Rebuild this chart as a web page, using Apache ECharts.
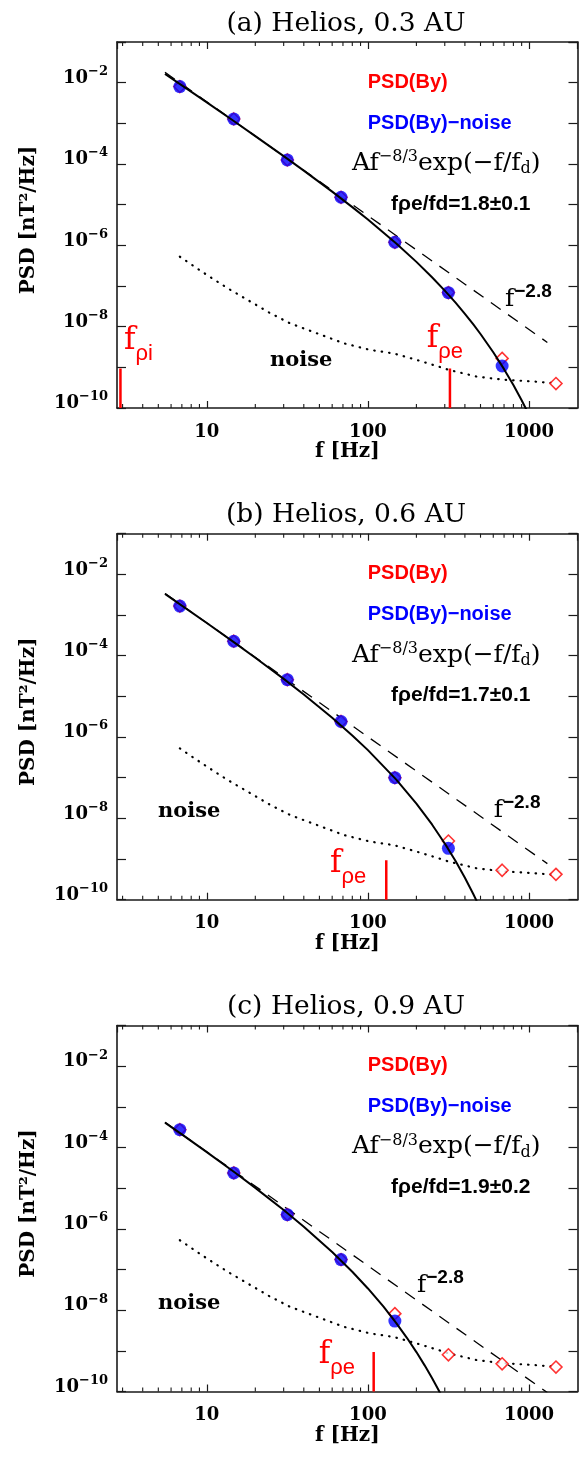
<!DOCTYPE html>
<html><head><meta charset="utf-8">
<script src="https://cdn.jsdelivr.net/npm/echarts@6/dist/echarts.min.js"></script>
<style>html,body{margin:0;padding:0;background:#fff;}#c{width:579px;height:1457px;}</style>
</head><body><div id="c"></div>
<script>
// ---------------- data ----------------
// Helios search-coil channel centre frequencies [Hz]
const freq = [6.8, 14.7, 31.6, 68.1, 147, 316, 681, 1470];

const panelTitles = ['(a) Helios, 0.3 AU', '(b) Helios, 0.6 AU', '(c) Helios, 0.9 AU'];
const ratioLabels = ['1.8\u00b10.1', '1.7\u00b10.1', '1.9\u00b10.2'];

// PSD(By) – red diamonds
const psdA = [8.0e-3, 1.28e-3, 1.26e-4, 1.52e-5, 1.19e-6, 6.9e-8, 1.66e-9, 4.0e-10];
const psdB = [1.66e-3, 2.27e-4, 2.58e-5, 2.41e-6, 1.0e-7, 2.77e-9, 5.3e-10, 4.2e-10];
const psdC = [2.75e-4, 2.37e-5, 2.23e-6, 1.75e-7, 8.2e-9, 8.0e-10, 4.8e-10, 4.0e-10];

// PSD(By)-noise – blue dots (null = not shown)
const subA = [8.0e-3, 1.28e-3, 1.26e-4, 1.52e-5, 1.19e-6, 6.86e-8, 1.08e-9, null];
const subB = [1.66e-3, 2.27e-4, 2.58e-5, 2.41e-6, 1.0e-7, 1.83e-9, null, null];
const subC = [2.75e-4, 2.37e-5, 2.23e-6, 1.75e-7, 5.4e-9, null, null, null];

// noise level – dotted curve (same in all panels)
const noiseF = [6.8, 9.6, 13.4, 18.6, 24.8, 33, 48, 71, 103, 145, 202, 269, 316, 475, 681, 1067, 1470];
const noiseP = [5.25e-7, 2.09e-7, 8.91e-8, 4.17e-8, 2.14e-8, 1.20e-8, 6.92e-9, 3.89e-9, 2.69e-9, 2.19e-9, 1.51e-9, 1.07e-9, 8.7e-10, 5.9e-10, 5.0e-10, 4.47e-10, 4.07e-10];

// fitted curve A f^-8/3 exp(-f/fd)
const fitFA = [5.5, 7, 10, 15, 20, 30, 40, 60, 80, 100, 150, 200, 250, 300, 350, 400, 450, 500, 600, 700, 800, 900, 1000];
const fitPA = [1.647e-2, 8.59e-3, 3.264e-3, 1.077e-3, 4.865e-4, 1.562e-4, 6.87e-5, 2.089e-5, 8.70e-6, 4.30e-6, 1.110e-6, 3.92e-7, 1.645e-7, 7.70e-8, 3.883e-8, 2.07e-8, 1.15e-8, 6.61e-9, 2.353e-9, 9.03e-10, 3.66e-10, 1.55e-10, 6.78e-11];
const fitFB = [5.5, 7, 10, 15, 20, 30, 40, 60, 80, 100, 150, 200, 250, 300, 350, 400, 450, 500];
const fitPB = [3.308e-3, 1.708e-3, 6.37e-4, 2.038e-4, 8.92e-5, 2.69e-5, 1.11e-5, 2.976e-6, 1.093e-6, 4.76e-7, 8.97e-8, 2.312e-8, 7.09e-9, 2.417e-9, 8.90e-10, 3.463e-10, 1.405e-10, 5.89e-11];
const fitFC = [5.5, 7, 10, 15, 20, 30, 40, 60, 80, 100, 125, 150, 175, 200, 225, 250, 275, 300];
const fitPC = [4.10e-4, 2.099e-4, 7.69e-5, 2.39e-5, 1.017e-5, 2.893e-6, 1.127e-6, 2.693e-7, 8.80e-8, 3.418e-8, 1.216e-8, 4.82e-9, 2.062e-9, 9.31e-10, 4.39e-10, 2.137e-10, 1.069e-10, 5.47e-11];

// f^-2.8 reference line (dashed), end points
const dashF = [5.5, 1300];
const dashA = [1.8e-2, 4.1e-9];
const dashB = [3.4e-3, 7.7e-10];
const dashC = [4.16e-4, 9.4e-11];

// gyro-scale frequencies (red bars)
const fRhoA = [2.91, 323];
const fRhoB = [130];
const fRhoC = [108.6];
const fRhoBar = [1e-10, 9.3e-10];

// axes
const X_MIN = 2.77, X_MAX = 2000, Y_MIN = 1e-10, Y_MAX = 1e-1;
const xMinorTicks = [3, 4, 5, 6, 7, 8, 9, 20, 30, 40, 50, 60, 70, 80, 90, 200, 300, 400, 500, 600, 700, 800, 900];

// ---------------- layout ----------------
const SERIF = 'DejaVu Serif';
const SANS = 'Liberation Sans';
const INK = '#1a1a1a';
const RED = '#ff0000', BLUE = '#0000ff';
const GRID_LEFT = 117, GRID_W = 460.5, GRID_H = 366;
const TOPS = [42, 533.7, 1025.5];

const panels = [
  {psd: psdA, sub: subA, fitF: fitFA, fitP: fitPA, dash: dashA, fRho: fRhoA},
  {psd: psdB, sub: subB, fitF: fitFB, fitP: fitPB, dash: dashB, fRho: fRhoB},
  {psd: psdC, sub: subC, fitF: fitFC, fitP: fitPC, dash: dashC, fRho: fRhoC}
];

function isPow10(v) { const e = Math.log10(v); return Math.abs(e - Math.round(e)) < 1e-6; }
function xLabel(v) { return isPow10(v) ? '{b|' + Math.round(v) + '}' : ''; }
function yLabel(v) {
  if (!isPow10(v)) return '';
  const e = Math.round(Math.log10(v));
  if (e % 2 !== 0) return '';
  return '{b|10}{s|' + (e < 0 ? '\u2212' : '') + Math.abs(e) + '}';
}

const grids = [], xAxes = [], yAxes = [], series = [], graphics = [];

function minorTick(params, api) {
  const f = api.value(0);
  const pb = api.coord([f, Y_MIN]);
  const pt = api.coord([f, Y_MAX]);
  const st = {stroke: INK, lineWidth: 1.1};
  return {type: 'group', children: [
    {type: 'line', shape: {x1: pb[0], y1: pb[1], x2: pb[0], y2: pb[1] - 4}, style: st},
    {type: 'line', shape: {x1: pt[0], y1: pt[1], x2: pt[0], y2: pt[1] + 4}, style: st}
  ]};
}

function pair(xs, ys) { return xs.map((x, i) => [x, ys[i]]).filter(d => d[1] != null); }

function txt(x, y, style) {
  const s = Object.assign({align: 'left', verticalAlign: 'middle', textAlign: 'left', textVerticalAlign: 'middle'}, style);
  return {type: 'text', x: x, y: y, silent: true, z: 100, style: s};
}

const frhoRich = (sub) => ({
  text: '{f|f}{s|' + sub + '}',
  rich: {
    f: {fontFamily: SERIF, fontSize: 31, fill: RED, color: RED, lineHeight: 39, verticalAlign: 'top'},
    s: {fontFamily: SANS, fontSize: 22, fill: RED, color: RED, verticalAlign: 'bottom'}
  }
});

panels.forEach((P, p) => {
  const T = TOPS[p];
  grids.push({left: GRID_LEFT, top: T, width: GRID_W, height: GRID_H, containLabel: false});
  const xBase = {type: 'log', logBase: 10, gridIndex: p, min: X_MIN, max: X_MAX,
    axisLine: {show: true, onZero: false, lineStyle: {color: INK, width: 1.6}},
    axisTick: {show: true, inside: true, length: 7, lineStyle: {color: INK, width: 1.2}},
    splitLine: {show: false}, minorTick: {show: false}, minorSplitLine: {show: false}};
  xAxes.push(Object.assign({}, xBase, {position: 'bottom', name: 'f [Hz]', nameLocation: 'middle', nameGap: 34,
    nameTextStyle: {fontFamily: SERIF, fontWeight: 'bold', fontSize: 20, color: '#000'},
    axisLabel: {show: true, margin: 15, formatter: xLabel, showMinLabel: false, showMaxLabel: false,
      rich: {b: {fontFamily: SERIF, fontWeight: 'bold', fontSize: 18, color: '#000'}}}}));
  xAxes.push(Object.assign({}, xBase, {position: 'top', axisLabel: {show: false}}));
  const yBase = {type: 'log', logBase: 10, gridIndex: p, min: Y_MIN, max: Y_MAX,
    axisLine: {show: true, onZero: false, lineStyle: {color: INK, width: 1.6}},
    axisTick: {show: true, inside: true, length: 9, lineStyle: {color: INK, width: 1.2}},
    splitLine: {show: false}, minorTick: {show: false}, minorSplitLine: {show: false}};
  yAxes.push(Object.assign({}, yBase, {position: 'left', name: 'PSD [nT\u00b2/Hz]', nameLocation: 'middle', nameGap: 78,
    nameTextStyle: {fontFamily: SERIF, fontWeight: 'bold', fontSize: 20, color: '#000', padding: [0, 0, 0, 10]},
    axisLabel: {show: true, margin: 9, formatter: yLabel, padding: [0, 0, 13, 0],
      rich: {
        b: {fontFamily: SERIF, fontWeight: 'bold', fontSize: 18, lineHeight: 22, verticalAlign: 'bottom', color: '#000'},
        s: {fontFamily: SERIF, fontWeight: 'bold', fontSize: 13, verticalAlign: 'top', color: '#000'}
      }}}));
  yAxes.push(Object.assign({}, yBase, {position: 'right', axisLabel: {show: false}}));

  const ax = {xAxisIndex: 2 * p, yAxisIndex: 2 * p};
  series.push(
    Object.assign({type: 'line', name: 'noise', data: pair(noiseF, noiseP), symbol: 'none', z: 2,
      lineStyle: {color: '#000', width: 2.2, type: [0.5, 7], cap: 'round'}}, ax),
    Object.assign({type: 'line', name: 'f^-2.8', data: pair(dashF, P.dash), symbol: 'none', z: 3,
      lineStyle: {color: '#000', width: 1.3, type: [12, 9]}}, ax),
    Object.assign({type: 'scatter', name: 'PSD(By)', data: pair(freq, P.psd), symbol: 'diamond', symbolSize: [12, 12], z: 4,
      itemStyle: {color: '#fff', borderColor: RED, borderWidth: 1.6}}, ax),
    Object.assign({type: 'scatter', name: 'PSD(By)-noise', data: pair(freq, P.sub), symbol: 'circle', symbolSize: 13, z: 5,
      itemStyle: {color: BLUE}}, ax),
    Object.assign({type: 'line', name: 'fit', data: pair(P.fitF, P.fitP), symbol: 'none', z: 6,
      lineStyle: {color: '#000', width: 2}}, ax)
  );
  P.fRho.forEach(f => series.push(Object.assign({type: 'line', data: [[f, fRhoBar[0]], [f, fRhoBar[1]]], symbol: 'none', z: 7,
    lineStyle: {color: RED, width: 2.5}}, ax)));
  series.push(Object.assign({type: 'custom', data: xMinorTicks.map(f => [f, Y_MIN]), renderItem: minorTick, z: 8, silent: true}, ax));

  // ---- texts ----
  const titleY = [24, 515.5, 1007.5][p];
  graphics.push(txt(346, titleY, {text: panelTitles[p], fontFamily: SERIF, fontSize: 26.5, fill: '#000',
    align: 'center', textAlign: 'center'}));
  graphics.push(txt(367.7, T + 40, {text: 'PSD(By)', fontFamily: SANS, fontWeight: 'bold', fontSize: 20, fill: RED}));
  graphics.push(txt(367.7, T + 81, {text: 'PSD(By)\u2212noise', fontFamily: SANS, fontWeight: 'bold', fontSize: 20, fill: BLUE}));
  graphics.push(txt(352, T + 121.3, {
    text: '{m|Af}{u|\u22128/3}{m|exp(\u2212f/f}{d|d}{m|)}',
    rich: {
      m: {fontFamily: SERIF, fontSize: 25, lineHeight: 28, fill: '#000', color: '#000', verticalAlign: 'middle'},
      u: {fontFamily: SERIF, fontSize: 16, fill: '#000', color: '#000', verticalAlign: 'top'},
      d: {fontFamily: SERIF, fontSize: 16, fill: '#000', color: '#000', verticalAlign: 'bottom'}
    }}));
  graphics.push(txt(391, T + 162, {text: 'f\u03c1e/fd=' + ratioLabels[p], fontFamily: SANS, fontWeight: 'bold', fontSize: 21, fill: '#000'}));

  const noisePos = [[270, 361], [158, 812], [158, 1304]][p];
  graphics.push(txt(noisePos[0], noisePos[1], {text: 'noise', fontFamily: SERIF, fontWeight: 'bold', fontSize: 21, fill: '#000'}));

  const slopePos = [[505, 297], [493.7, 808], [417, 1283]][p];
  graphics.push(txt(slopePos[0], slopePos[1], {
    text: '{f|f}{s|\u22122.8}',
    rich: {
      f: {fontFamily: SERIF, fontSize: 25, lineHeight: 30, fill: '#000', color: '#000', verticalAlign: 'bottom'},
      s: {fontFamily: SANS, fontWeight: 'bold', fontSize: 19, fill: '#000', color: '#000', verticalAlign: 'top'}
    }}));
});

// gyro-scale labels
graphics.push(txt(124, 345, frhoRich('\u03c1i')));
graphics.push(txt(426.7, 343, frhoRich('\u03c1e')));
graphics.push(txt(330, 868, frhoRich('\u03c1e')));
graphics.push(txt(318.7, 1359, frhoRich('\u03c1e')));

const chart = echarts.init(document.getElementById('c'), null, {renderer: 'canvas'});
chart.setOption({
  animation: false,
  backgroundColor: '#fff',
  grid: grids,
  xAxis: xAxes,
  yAxis: yAxes,
  series: series,
  graphic: {elements: graphics}
});
</script>
</body></html>
